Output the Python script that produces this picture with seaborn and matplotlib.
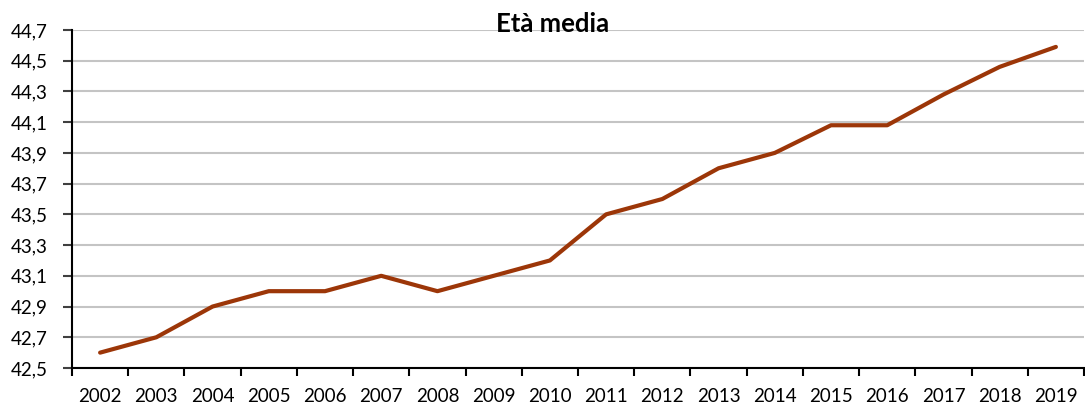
import matplotlib
matplotlib.use("Agg")
import matplotlib.pyplot as plt
from matplotlib.ticker import FixedLocator, FuncFormatter
import seaborn as sns
import pandas as pd

years = ["2002", "2003", "2004", "2005", "2006", "2007", "2008", "2009", "2010",
         "2011", "2012", "2013", "2014", "2015", "2016", "2017", "2018", "2019"]
eta_media = [42.6, 42.7, 42.9, 43.0, 43.0, 43.1, 43.0, 43.1, 43.2,
             43.5, 43.6, 43.8, 43.9, 44.08, 44.08, 44.28, 44.46, 44.59]
y_ticks = [42.5, 42.7, 42.9, 43.1, 43.3, 43.5, 43.7, 43.9, 44.1, 44.3, 44.5, 44.7]

df = pd.DataFrame({"anno": years, "eta": eta_media})

sns.set_style("white")
plt.rcParams["font.family"] = ["Lato", "DejaVu Sans"]

fig = plt.figure(figsize=(10.85, 4.05), dpi=100)
ax = fig.add_axes([72 / 1085, 1 - 368 / 405, 1 - 72 / 1085 - 1 / 1085, (368 - 30) / 405])

sns.lineplot(data=df, x="anno", y="eta", sort=False, ax=ax,
             color="#9C3608", linewidth=3.0, solid_capstyle="round")

n = len(years)
ax.set_xlim(-0.5, n - 0.5)
ax.set_ylim(y_ticks[0], y_ticks[-1])

ax.set_yticks(y_ticks)
ax.yaxis.set_major_formatter(FuncFormatter(lambda v, p: f"{v:.1f}".replace(".", ",")))
ax.grid(axis="y", color="#C4C4C4", linewidth=1.5)
ax.set_axisbelow(True)

ax.set_xticks(range(n))
ax.set_xticklabels(years)
ax.xaxis.set_minor_locator(FixedLocator([i - 0.5 for i in range(n + 1)]))
ax.tick_params(axis="x", which="major", length=0, pad=14.5, labelsize=13.5, colors="black")
ax.tick_params(axis="x", which="minor", length=5.5, width=1.5, direction="out", bottom=True, color="black")
ax.tick_params(axis="y", which="major", length=6.5, width=1.5, direction="out", left=True,
               labelsize=13.5, pad=11, colors="black", color="#404040")

for side in ["top", "right"]:
    ax.spines[side].set_visible(False)
for side in ["left", "bottom"]:
    ax.spines[side].set_color("black")
    ax.spines[side].set_linewidth(1.5)

ax.set_xlabel("")
ax.set_ylabel("")

fig.text(553 / 1085, 1 - 32 / 405, "Età media", ha="center", va="baseline",
         fontsize=18.5, fontweight="bold", color="black")

fig.savefig("out.png", dpi=100)
